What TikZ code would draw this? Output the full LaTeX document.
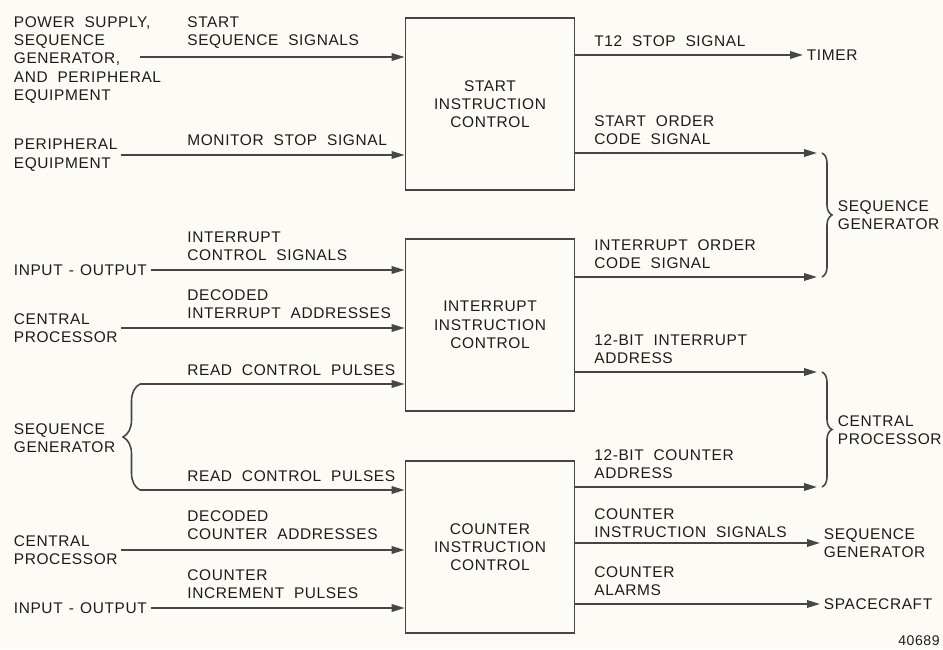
\documentclass[tikz,border=0pt]{standalone}
\usepackage{fontspec}
\setmainfont{Liberation Sans}[LetterSpace=4, WordSpace=2]
\usepackage{xcolor}
\usepackage{tikz}
\usetikzlibrary{arrows.meta, decorations.pathreplacing}

\definecolor{ink}{RGB}{28,28,28}
\definecolor{linegray}{RGB}{70,70,70}
\definecolor{paper}{RGB}{252,251,245}

\begin{document}
\begin{tikzpicture}[x=0.02cm, y=-0.02cm]
    % Define styles
    \tikzstyle{block} = [rectangle, draw=linegray, line width=1pt, minimum width=3.38cm, minimum height=3.44cm, align=center, text=ink, font=\fontsize{8.8}{10.4}\selectfont]
    \tikzstyle{source} = [anchor=west, align=left, inner xsep=2pt, inner ysep=0pt, text=ink, font=\fontsize{8.8}{10.5}\selectfont]
    \tikzstyle{sink} = [anchor=west, align=left, inner xsep=2pt, inner ysep=0pt, text=ink, font=\fontsize{8.8}{10.5}\selectfont]
    \tikzstyle{signal} = [anchor=south west, align=left, inner sep=0pt, text=ink, font=\fontsize{8.8}{10.5}\selectfont]
    \tikzstyle{sig} = [draw=linegray, line width=1pt, -{Triangle[length=2.6mm, width=1.5mm]}]
    \tikzstyle{lbrace} = [draw=linegray, line width=0.9pt, decorate, decoration={brace, amplitude=0.34cm}]
    \tikzstyle{rbrace} = [draw=linegray, line width=0.9pt, decorate, decoration={brace, amplitude=0.2cm}]

    % Page
    \useasboundingbox (0, 0) rectangle (943, 649);
    \fill[paper] (0, 0) rectangle (943, 649);

    % Control blocks
    \node[block] (start) at (490, 104) {START\\INSTRUCTION\\CONTROL};
    \node[block] (intr) at (490, 325) {INTERRUPT\\INSTRUCTION\\CONTROL};
    \node[block] (count) at (490, 547) {COUNTER\\INSTRUCTION\\CONTROL};

    % START inputs
    \node[source] (psu) at (10, 60) {POWER SUPPLY,\\SEQUENCE\\GENERATOR,\\AND PERIPHERAL\\EQUIPMENT};
    \node[source] (periph) at (10, 155) {PERIPHERAL\\EQUIPMENT};
    \coordinate (psu-out) at (140, 57);
    \node[signal] (l-seq) at (187, 49) {START\\SEQUENCE SIGNALS};
    \node[signal] (l-mon) at (187, 146) {MONITOR STOP SIGNAL};

    \draw[sig] (psu-out) -- (psu-out -| start.west);
    \draw[sig] (periph) -- (periph -| start.west);

    % INTERRUPT inputs
    \node[source] (io1) at (10, 270) {INPUT\hspace{0.4em}-\hspace{0.4em}OUTPUT};
    \node[source] (cpu1) at (10, 328) {CENTRAL\\PROCESSOR};
    \node[signal] (l-intc) at (187, 261) {INTERRUPT\\CONTROL SIGNALS};
    \node[signal] (l-dint) at (187, 319) {DECODED\\INTERRUPT ADDRESSES};

    \draw[sig] (io1) -- (io1 -| intr.west);
    \draw[sig] (cpu1) -- (cpu1 -| intr.west);

    % Read control pulses (shared source)
    \node[source] (seq1) at (10, 438) {SEQUENCE\\GENERATOR};
    \coordinate (rcp-top) at (140, 384);
    \coordinate (rcp-bot) at (140, 490);
    \node[signal] (l-rcp1) at (187, 376) {READ CONTROL PULSES};
    \node[signal] (l-rcp2) at (187, 482) {READ CONTROL PULSES};

    \draw[lbrace] (rcp-bot) -- (rcp-top);
    \draw[sig] (rcp-top) -- (rcp-top -| intr.west);
    \draw[sig] (rcp-bot) -- (rcp-bot -| count.west);

    % COUNTER inputs
    \node[source] (cpu2) at (10, 550) {CENTRAL\\PROCESSOR};
    \node[source] (io2) at (10, 608) {INPUT\hspace{0.4em}-\hspace{0.4em}OUTPUT};
    \node[signal] (l-dcnt) at (187, 540) {DECODED\\COUNTER ADDRESSES};
    \node[signal] (l-inc) at (187, 599) {COUNTER\\INCREMENT PULSES};

    \draw[sig] (cpu2) -- (cpu2 -| count.west);
    \draw[sig] (io2) -- (io2 -| count.west);

    % Outputs to timer and sequence generator
    \node[sink] (timer) at (803, 55) {TIMER};
    \node[signal] (l-t12) at (594, 47) {T12 STOP SIGNAL};
    \draw[sig] (timer -| start.east) -- (timer);

    \coordinate (ord-top) at (822, 153);
    \coordinate (ord-bot) at (822, 277);
    \node[sink] (seq2) at (834, 215) {SEQUENCE\\GENERATOR};
    \node[signal] (l-sord) at (594, 145) {START ORDER\\CODE SIGNAL};
    \node[signal] (l-iord) at (594, 269) {INTERRUPT ORDER\\CODE SIGNAL};

    \draw[rbrace] (ord-top) -- (ord-bot);
    \draw[sig, shorten >=0.1cm] (ord-top -| start.east) -- (ord-top);
    \draw[sig, shorten >=0.1cm] (ord-bot -| intr.east) -- (ord-bot);

    % Addresses to central processor
    \coordinate (adr-top) at (822, 372);
    \coordinate (adr-bot) at (822, 487);
    \node[sink] (cpu3) at (834, 430) {CENTRAL\\PROCESSOR};
    \node[signal] (l-iadr) at (594, 364) {12-BIT INTERRUPT\\ADDRESS};
    \node[signal] (l-cadr) at (594, 479) {12-BIT COUNTER\\ADDRESS};

    \draw[rbrace] (adr-top) -- (adr-bot);
    \draw[sig, shorten >=0.1cm] (adr-top -| intr.east) -- (adr-top);
    \draw[sig, shorten >=0.1cm] (adr-bot -| count.east) -- (adr-bot);

    % COUNTER outputs
    \node[sink] (seq3) at (820, 543) {SEQUENCE\\GENERATOR};
    \node[sink] (craft) at (820, 604) {SPACECRAFT};
    \node[signal] (l-cins) at (594, 538) {COUNTER\\INSTRUCTION SIGNALS};
    \node[signal] (l-alm) at (594, 596) {COUNTER\\ALARMS};

    \draw[sig] (seq3 -| count.east) -- (seq3);
    \draw[sig] (craft -| count.east) -- (craft);

    % Figure number
    \node[anchor=east, inner sep=0pt, text=ink, font=\fontsize{8}{9}\selectfont] (fignum) at (940, 641) {40689};
\end{tikzpicture}
\end{document}
